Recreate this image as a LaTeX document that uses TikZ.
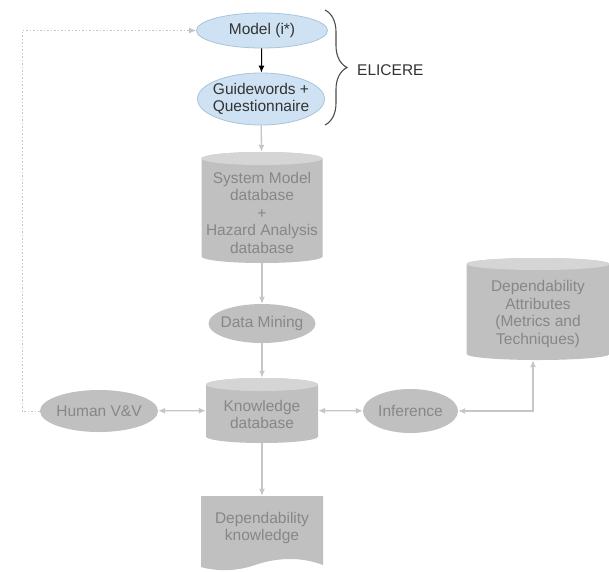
\documentclass[tikz,border=0pt]{standalone}
\usepackage{fontspec}
\setmainfont{Liberation Sans}
\usetikzlibrary{shapes.geometric,arrows.meta,decorations.pathreplacing,calc}
\definecolor{bluefill}{HTML}{CFE2F3}
\definecolor{blueedge}{HTML}{A8C4D8}
\definecolor{gfill}{HTML}{C0C0C0}
\definecolor{gtop}{HTML}{D5D5D5}
\definecolor{gtext}{HTML}{878787}
\definecolor{gline}{HTML}{C6C6C6}
\definecolor{dtext}{HTML}{333333}
\newcommand\drawcyl[5]{% cx, ytop, ybot, rx, ry
  \fill[gfill] (#1-#4,#2+#5) -- (#1-#4,#3-#5) arc[start angle=180,end angle=360,x radius=#4pt,y radius=#5pt] -- (#1+#4,#2+#5) arc[start angle=0,end angle=180,x radius=#4pt,y radius=#5pt] -- cycle;
  \fill[gtop] (#1,#2+#5) ellipse[x radius=#4pt,y radius=#5pt];
}
\begin{document}
\begin{tikzpicture}[x=1pt,y=-1pt,
  every node/.style={font=\fontsize{15.5}{17.5}\selectfont, align=center},
  blueell/.style={ellipse, fill=bluefill, draw=blueedge, line width=0.8pt, text=dtext, inner xsep=-8pt, inner ysep=0pt},
  grayell/.style={ellipse, fill=gfill, text=gtext, inner xsep=-8pt, inner ysep=0pt},
  cylbox/.style={rectangle, inner sep=0pt},
  gtxt/.style={text=gtext, inner sep=0pt},
  tip/.style={Latex[length=7pt,width=6pt]},
  conn/.style={draw=gline, line width=1.3pt, -{Latex[length=7pt,width=6pt]}},
  bconn/.style={draw=gline, line width=1.3pt, {Latex[length=7pt,width=6pt]}-{Latex[length=7pt,width=6pt]}},
]
\useasboundingbox (0,0) rectangle (609,571);
\fill[white] (0,0) rectangle (609,571);

% top blue nodes
\node[blueell, minimum width=131pt, minimum height=35pt] (model) at (262,30.5) {Model (i*)};
\node[blueell, minimum width=127pt, minimum height=52pt] (gw) at (261,99) {Guidewords +\\Questionnaire};
\draw[black, line width=1pt, -{Latex[length=7pt,width=6pt]}] (model) -- (gw);

% brace
\coordinate (b1) at (325,10);
\coordinate (b2) at (325,125);
\draw[decorate, decoration={brace, amplitude=22pt}, line width=1.1pt, draw=black!70] (b1) -- (b2);
\node[anchor=west, text=dtext, inner sep=0pt] (elicere) at (357,70) {ELICERE};

% system model cylinder
\drawcyl{262}{152}{263}{60.5}{6.5}
\node[cylbox, minimum width=121pt, minimum height=111pt] (smdb) at (262,207.5) {};
\node[gtxt] (smdbt) at (262,212.5) {System Model\\database\\+\\Hazard Analysis\\database};

% data mining
\node[grayell, minimum width=107pt, minimum height=39pt] (dm) at (262,323.5) {Data Mining};

% knowledge database
\drawcyl{262}{378}{443}{56}{6.5}
\node[cylbox, minimum width=112pt, minimum height=65pt] (kdb) at (262,410.5) {};
\node[gtxt] (kdbt) at (262,414.5) {Knowledge\\database};

% human V&V and inference
\node[grayell, minimum width=118pt, minimum height=42pt] (hv) at (99,411) {Human V\&V};
\node[grayell, minimum width=95pt, minimum height=44pt] (inf) at (410.5,411) {Inference};

% dependability attributes
\drawcyl{538}{258}{360}{71.5}{6}
\node[cylbox, minimum width=143pt, minimum height=102pt] (da) at (538,309) {};
\node[gtxt] (dat) at (538,314) {Dependability\\Attributes\\(Metrics and\\Techniques)};

% dependability knowledge document
\fill[gfill] (201,567) -- (201,496) -- (323,496) -- (323,565) .. controls (300,556) and (275,558) .. (255,565) .. controls (235,572) and (215,571) .. (201,567) -- cycle;
\node[cylbox, minimum width=122pt, minimum height=70pt] (doc) at (262,531) {};
\node[gtxt] (doct) at (262,528) {Dependability\\knowledge};

% connectors
\draw[conn] (gw) -- (smdb);
\draw[conn] (smdb) -- (dm);
\draw[conn] (dm) -- (kdb);
\draw[conn] (kdb) -- (doc);
\draw[bconn] (hv) -- (kdb);
\draw[bconn] (kdb) -- (inf);
\coordinate (c3) at (533,411);
\draw[bconn] (inf) -- (c3) -- (c3 |- da.south);
\coordinate (d2) at (22,30.5);
\draw[draw=gline, line width=1pt, dash pattern=on 1.5pt off 2pt, -{Latex[length=7pt,width=6pt]}] (hv.west) -| (d2) -- (model.west);
\end{tikzpicture}
\end{document}
